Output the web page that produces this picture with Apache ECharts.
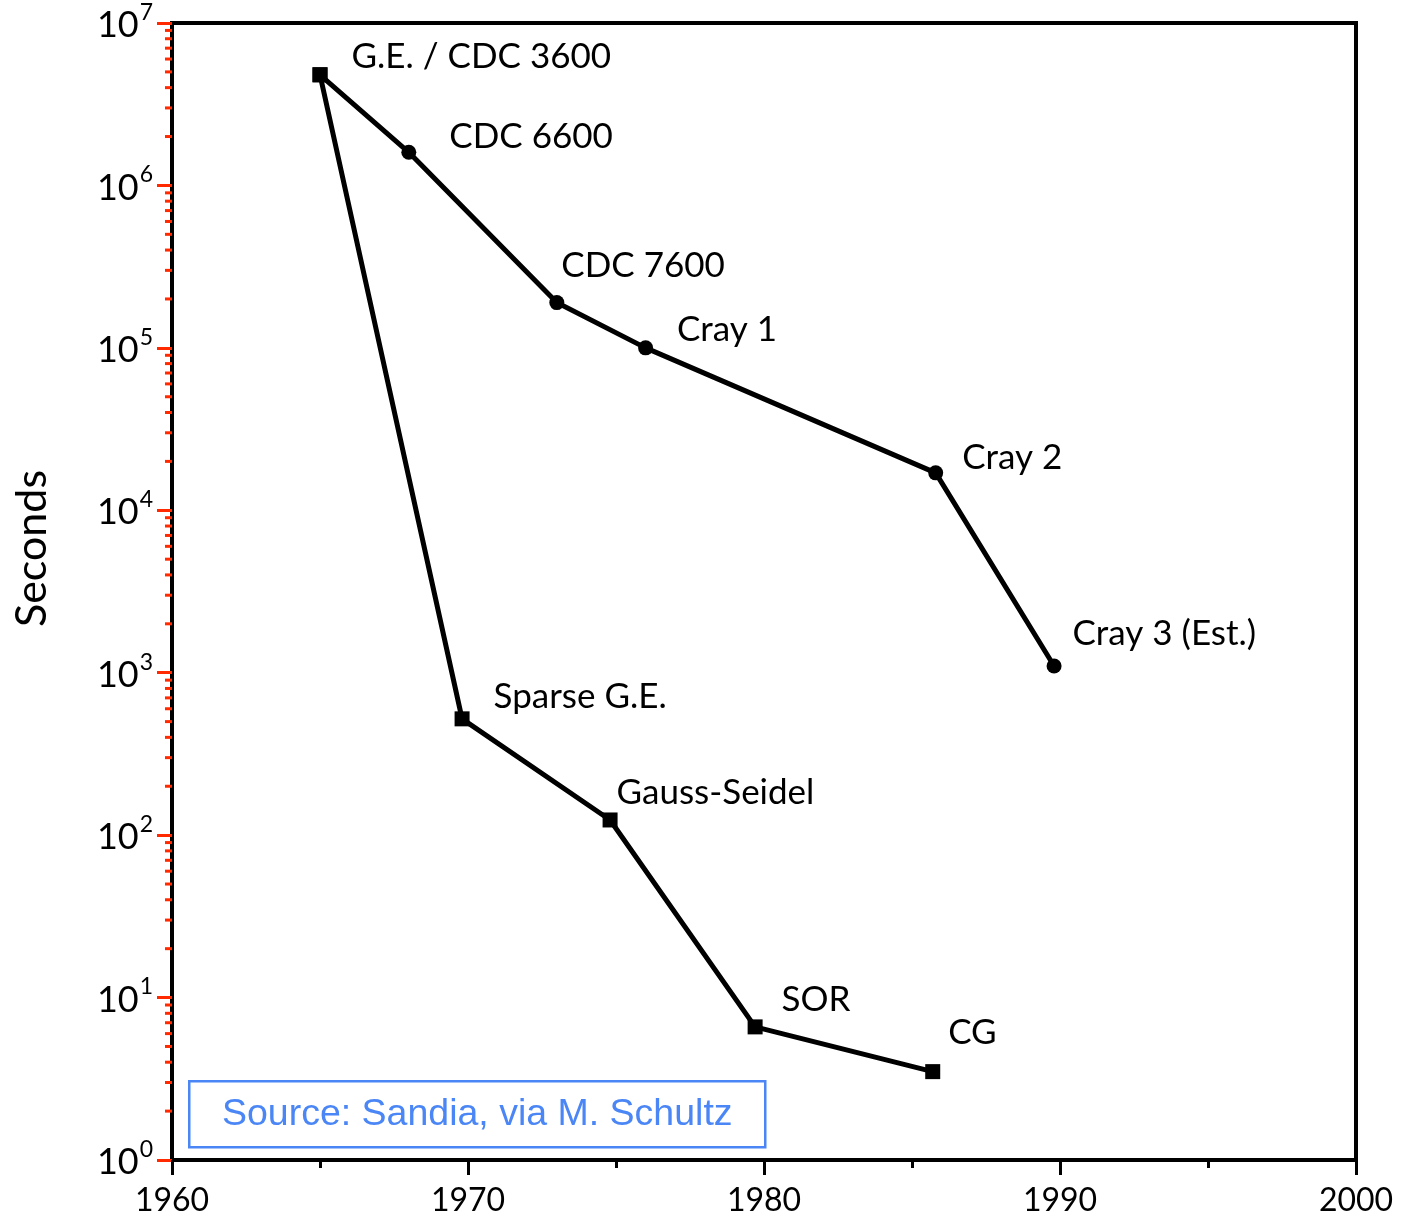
<!DOCTYPE html>
<html>
<head>
<meta charset="utf-8">
<script src="https://cdn.jsdelivr.net/npm/echarts@6/dist/echarts.min.js"></script>
<style>
html,body{margin:0;padding:0;background:#fff;}
#chart{width:1406px;height:1217px;}
</style>
</head>
<body>
<div id="chart"></div>
<script>
// ---- data ----
const machineNames = ['G.E. / CDC 3600', 'CDC 6600', 'CDC 7600', 'Cray 1', 'Cray 2', 'Cray 3 (Est.)'];
const machineYears = [1965, 1968, 1973, 1976, 1985.8, 1989.8];
const machineSeconds = [4.8e6, 1.6e6, 1.9e5, 1.0e5, 1.7e4, 1.1e3];

const algoNames = ['G.E.', 'Sparse G.E.', 'Gauss-Seidel', 'SOR', 'CG'];
const algoYears = [1965, 1969.8, 1974.8, 1979.7, 1985.7];
const algoSeconds = [4.8e6, 520, 124, 6.6, 3.5];

const xTickYears = [1960, 1970, 1980, 1990, 2000];
const yDecades = [0, 1, 2, 3, 4, 5, 6, 7];
const minorMultipliers = [2, 3, 4, 5, 6, 7, 8, 9];

const sourceNote = 'Source: Sandia, via M. Schultz';

// ---- label placement (style, not data) ----
const machineLabelOffsets = [[24, -18], [33, -16], [-3, -37], [24, -18], [19, -15], [11, -32]];
const algoLabelOffsets = [[0, 0], [24, -22], [-1, -27], [19, -27], [8, -39]];

const FONT = 'Lato, "Noto Sans", sans-serif';
const RED = '#ff2a00';

const machineData = machineNames.map((n, i) => ({
  name: n,
  value: [machineYears[i], machineSeconds[i]],
  symbol: i === 0 ? 'rect' : 'circle',
  label: { offset: machineLabelOffsets[i] }
}));
const algoData = algoNames.map((n, i) => ({
  name: n,
  value: [algoYears[i], algoSeconds[i]],
  label: { show: i !== 0, offset: algoLabelOffsets[i] }
}));

const minorTickData = [];
yDecades.slice(0, -1).forEach(d => {
  minorMultipliers.forEach(m => minorTickData.push([xTickYears[0], m * Math.pow(10, d)]));
});

const labelStyle = {
  show: true,
  position: 'right',
  distance: 0,
  formatter: '{b}',
  color: '#000',
  fontFamily: FONT,
  fontSize: 35
};

const chart = echarts.init(document.getElementById('chart'));
chart.setOption({
  animation: false,
  backgroundColor: '#fff',
  grid: {
    left: 172, right: 50, top: 23, bottom: 57,
    containLabel: false,
    outerBoundsMode: 'none',
    show: true, borderColor: '#000', borderWidth: 4
  },
  xAxis: {
    type: 'value',
    min: xTickYears[0],
    max: xTickYears[xTickYears.length - 1],
    interval: 10,
    splitLine: { show: false },
    axisLine: { show: true, lineStyle: { color: '#000', width: 4 } },
    axisTick: { show: true, length: 15, lineStyle: { color: '#000', width: 3 } },
    minorTick: { show: true, splitNumber: 2, length: 8, lineStyle: { color: '#000', width: 3 } },
    axisLabel: {
      color: '#000', fontFamily: FONT, fontSize: 32, margin: 25,
      formatter: v => String(v)
    }
  },
  yAxis: {
    type: 'log',
    logBase: 10,
    min: Math.pow(10, yDecades[0]),
    max: Math.pow(10, yDecades[yDecades.length - 1]),
    name: 'Seconds',
    nameLocation: 'middle',
    nameGap: 118,
    nameRotate: 90,
    nameTextStyle: { color: '#000', fontFamily: FONT, fontSize: 43, padding: [0, 0, 0, 86] },
    splitLine: { show: false },
    axisLine: { show: true, lineStyle: { color: '#000', width: 4 } },
    axisTick: { show: true, length: 15, lineStyle: { color: RED, width: 3 } },
    axisLabel: {
      margin: 19,
      formatter: v => '{b|10}{s|' + Math.round(Math.log10(v)) + '}',
      rich: {
        b: { color: '#000', fontFamily: FONT, fontSize: 36, padding: [5, 0, 0, 0] },
        s: { color: '#000', fontFamily: FONT, fontSize: 23, padding: [0, 0, 21, 1] }
      }
    }
  },
  graphic: [
    {
      type: 'group',
      left: 188, top: 1080,
      children: [
        { type: 'rect', shape: { x: 0, y: 0, width: 576, height: 66 },
          style: { fill: '#fff', stroke: '#4a86f5', lineWidth: 2.5 } },
        { type: 'text', x: 288, y: 33,
          style: { text: sourceNote, fill: '#4a86f5', font: '37.5px "Liberation Sans", Arial, sans-serif',
                   align: 'center', verticalAlign: 'middle' } }
      ]
    }
  ],
  series: [
    {
      type: 'custom',
      name: 'minorTicks',
      clip: false,
      silent: true,
      z: 1,
      data: minorTickData,
      renderItem: (params, api) => {
        const p = api.coord([api.value(0), api.value(1)]);
        return {
          type: 'line',
          shape: { x1: p[0] - 7, y1: p[1], x2: p[0], y2: p[1] },
          style: { stroke: RED, lineWidth: 3 }
        };
      }
    },
    {
      type: 'line',
      name: 'Machines',
      data: machineData,
      symbol: 'circle',
      symbolSize: 15,
      showAllSymbol: true,
      lineStyle: { color: '#000', width: 5 },
      itemStyle: { color: '#000' },
      label: labelStyle,
      z: 3
    },
    {
      type: 'line',
      name: 'Algorithms',
      data: algoData,
      symbol: 'rect',
      symbolSize: 15,
      showAllSymbol: true,
      lineStyle: { color: '#000', width: 5 },
      itemStyle: { color: '#000' },
      label: labelStyle,
      z: 3
    }
  ]
});
</script>
</body>
</html>
